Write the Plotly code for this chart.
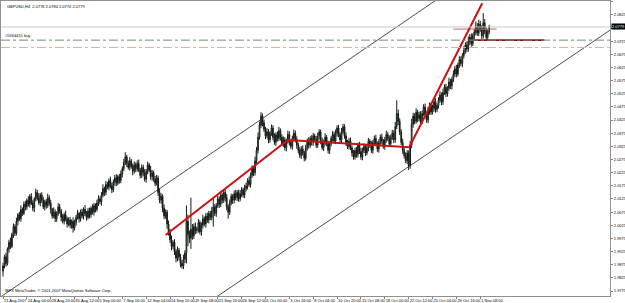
import plotly.graph_objects as go

# ---------------- data ----------------
SYMBOL_TITLE = "GBPUSD,H4  2.0776 2.0784 2.0770 2.0779"
COPYRIGHT = "IBFX MetaTrader, © 2001-2007 MetaQuotes Software Corp."
ORDER_LABEL = "#5564415 buy"

FIRST_OPEN_PIPS = 19850
CLOSE_PIPS = [
    19870, 19905, 19880, 19935, 19960, 19945, 19990, 20020, 19995, 20040, 20065, 20050, 20085, 20070, 20105, 20095,
    20120, 20105, 20135, 20110, 20090, 20125, 20150, 20130, 20110, 20140, 20120, 20095, 20115, 20100, 20130, 20110,
    20085, 20060, 20075, 20050, 20070, 20095, 20080, 20055, 20040, 20065, 20050, 20030, 20045, 20025, 20040, 20015, 20035,
    20055, 20070, 20050, 20075, 20060, 20085, 20070, 20055, 20080, 20065, 20090, 20075, 20100, 20085, 20110, 20125, 20115,
    20140, 20165, 20150, 20180, 20170, 20195, 20175, 20160, 20190, 20205, 20185, 20210, 20195, 20220,
    20240, 20265, 20285, 20260, 20245, 20270, 20250, 20230, 20255, 20240,
    20260, 20235, 20215, 20245, 20225, 20200, 20230, 20255, 20235, 20210, 20225, 20200, 20185, 20205,
    20150, 20120, 20135, 20090, 20060, 20075, 20030, 20000,
    19970, 19945, 19960, 19925, 19900, 19930, 19905, 19880, 19870, 19895, 19920,
    20040, 19990, 19975, 20010, 19985, 20020, 20005,
    20010, 20035, 20000, 20025, 20050, 20030, 20060, 20045, 20070, 20055, 20080, 20095, 20070,
    20100, 20125, 20105, 20140, 20120, 20150, 20130, 20095, 20075, 20110, 20135, 20120, 20145,
    20130, 20150, 20125, 20145, 20160, 20140, 20165,
    20175, 20195, 20180, 20215, 20240, 20225, 20270, 20310,
    20360, 20405, 20440, 20415,
    20390, 20365, 20380, 20350, 20375, 20395, 20360, 20340, 20370, 20355, 20385, 20360,
    20335, 20350, 20320, 20345, 20370, 20340, 20325, 20355, 20375, 20350, 20330, 20310,
    20290, 20315, 20300, 20280, 20320, 20345, 20330, 20355, 20340, 20365,
    20350, 20330, 20365, 20380, 20345, 20320, 20340, 20360, 20335, 20310, 20335, 20355, 20370, 20345,
    20375, 20395, 20370, 20350, 20380, 20400, 20365, 20340, 20325, 20345,
    20320, 20300, 20285, 20310, 20295, 20330, 20305, 20285, 20310, 20325,
    20300, 20320, 20345, 20330, 20310, 20340, 20355, 20335, 20315, 20340,
    20360, 20345, 20325, 20350, 20370, 20355, 20335, 20360, 20375, 20350,
    20400, 20450, 20420, 20380, 20340,
    20310, 20290, 20270, 20300, 20250,
    20330, 20410, 20440, 20420, 20455, 20430, 20445,
    20420, 20450, 20475, 20445, 20425, 20460, 20480, 20455, 20470, 20495, 20465, 20480, 20500,
    20520, 20495, 20530, 20550, 20525, 20545, 20570, 20555, 20580, 20600,
    20620, 20600, 20635, 20655, 20640, 20670, 20690,
    20710, 20695, 20725, 20740, 20715, 20745, 20760,
    20780, 20755, 20790, 20770, 20745, 20795, 20765, 20740, 20760, 20779,
]
UPPER_WICK_PIPS = [
    12, 8, 15, 6, 10, 18, 7, 12, 9, 14, 6, 11, 16, 8, 10, 13, 7, 15, 9, 12,
    10, 6, 14, 9, 17, 8, 11, 13, 7, 10, 15, 9, 12, 6, 18, 10, 8, 14, 11, 7,
    13, 9, 16, 8, 10, 12, 7, 15, 11, 9, 14, 6, 10, 13, 8, 17, 9, 11, 12, 7,
    15, 10, 8, 12, 14, 9, 11, 16, 7, 13, 10, 8, 15, 12, 9, 11, 14, 7, 10, 13,
    9, 12, 18, 8, 11, 14, 7, 10, 13, 9, 12, 15, 8, 11, 10, 14, 9, 12, 7, 16,
    10, 8, 13, 11, 9, 15, 12, 8, 14, 10, 9, 13, 11, 16, 8, 12, 10, 14, 9, 11,
    13, 18, 10, 60, 25, 15, 120, 20, 12, 16, 10, 14, 9, 12, 15, 8, 11, 13, 10, 9,
    14, 30, 11, 9, 13, 10, 15, 8, 12, 11, 14, 9, 13, 10, 8, 12, 15, 9, 11, 13,
    10, 8, 14, 12, 9, 15, 11, 13, 10, 16, 12, 18, 14, 15, 10, 12, 9, 14, 11, 8,
    13, 10, 15, 9, 12, 14, 8, 11, 13, 10, 9, 15, 12, 8, 11, 14, 10, 13, 9, 12,
    11, 14, 8, 12, 10, 15, 9, 13, 11, 8, 14, 12, 10, 9, 13, 11, 15, 8, 12, 10,
    9, 13, 11, 14, 10, 12, 8, 15, 11, 9, 13, 10, 12, 14, 8, 11, 10, 13, 9, 12,
    14, 10, 11, 9, 13, 12, 8, 15, 10, 11, 14, 9, 12, 10, 13, 8, 11, 15, 9, 12,
    10, 13, 11, 18, 50, 15, 12, 10, 14, 9, 12, 11, 10, 16, 20, 13, 11, 15, 9, 12,
    14, 11, 10, 13, 9, 15, 12, 10, 14, 11, 13, 9, 12, 15, 10, 14, 11, 13, 9, 16,
    12, 10, 14, 11, 15, 9, 13, 12, 10, 16, 11, 14, 18, 12, 15, 10, 13, 20, 14, 16,
    12, 15, 37, 14, 12, 10, 8,
]
LOWER_WICK_PIPS = [
    20, 9, 12, 8, 14, 10, 7, 13, 11, 9, 15, 8, 12, 10, 6, 14, 11, 9, 13, 8,
    12, 15, 9, 11, 7, 13, 10, 8, 14, 12, 9, 11, 16, 10, 8, 13, 12, 9, 11, 15,
    8, 12, 10, 14, 9, 11, 13, 18, 10, 12, 8, 15, 11, 9, 13, 10, 12, 8, 14, 11,
    9, 13, 11, 8, 12, 10, 15, 9, 14, 11, 8, 12, 10, 13, 9, 15, 11, 8, 12, 10,
    13, 9, 11, 14, 8, 12, 10, 15, 9, 13, 11, 8, 12, 10, 14, 9, 13, 11, 8, 12,
    15, 10, 12, 9, 14, 11, 13, 16, 12, 10, 18, 14, 12, 15, 11, 13, 16, 12, 14, 15,
    10, 12, 14, 40, 45, 18, 40, 15, 12, 14, 11, 13, 10, 15, 12, 9, 14, 11, 13, 10,
    12, 60, 10, 13, 9, 14, 11, 12, 10, 15, 13, 25, 11, 9, 14, 12, 10, 13, 11, 9,
    13, 10, 12, 11, 14, 9, 12, 10, 13, 11, 10, 12, 9, 11, 14, 10, 12, 9, 13, 11,
    10, 12, 9, 14, 11, 10, 13, 9, 12, 11, 14, 10, 12, 9, 13, 11, 10, 14, 12, 9,
    13, 10, 12, 9, 11, 14, 10, 12, 13, 9, 11, 10, 14, 12, 9, 13, 11, 10, 12, 14,
    10, 12, 9, 11, 13, 10, 12, 14, 9, 11, 13, 10, 12, 9, 14, 11, 10, 13, 12, 9,
    11, 13, 10, 12, 9, 14, 11, 10, 13, 12, 9, 11, 14, 10, 12, 9, 13, 11, 10, 12,
    12, 10, 13, 11, 9, 14, 12, 10, 13, 11, 9, 12, 15, 10, 12, 14, 11, 9, 13, 10,
    12, 11, 9, 13, 10, 12, 14, 11, 9, 13, 12, 10, 11, 9, 14, 12, 10, 13, 11, 9,
    12, 14, 10, 11, 13, 9, 12, 10, 14, 11, 13, 12, 10, 14, 11, 9, 13, 12, 10, 11,
    9, 12, 10, 13, 11, 10, 9,
]

TIME_LABELS = [
    "21 Aug 2007", "24 Aug 00:00", "28 Aug 20:00", "31 Aug 12:00", "5 Sep 00:00",
    "7 Sep 16:00", "12 Sep 04:00", "14 Sep 20:00", "19 Sep 08:00", "21 Sep 20:00",
    "26 Sep 12:00", "1 Oct 00:00", "3 Oct 16:00", "8 Oct 04:00", "10 Oct 20:00",
    "15 Oct 08:00", "18 Oct 00:00", "22 Oct 12:00", "25 Oct 04:00", "29 Oct 16:00",
    "1 Nov 08:00",
]
BARS_PER_LABEL = 16

PRICE_LABELS = [
    "1.9775", "1.9825", "1.9875", "1.9925", "1.9975", "2.0025", "2.0075", "2.0125",
    "2.0175", "2.0225", "2.0275", "2.0325", "2.0375", "2.0425", "2.0475", "2.0525",
    "2.0575", "2.0625", "2.0675", "2.0725", "2.0775", "2.0825", "2.0875",
]

# drawn objects (bar index, price)
RED_TREND_BARS = [109, 191, 272.4, 321.3]
RED_TREND_PRICES = [1.9988, 2.0349, 2.0322, 2.0869]
CHANNEL_A_BARS = [-2, 292]
CHANNEL_A_PRICES = [1.97508, 2.08874]
CHANNEL_B_BARS = [143, 412]
CHANNEL_B_PRICES = [1.97520, 2.07860]
BID_PRICE = 2.0779
ORDER_PRICE = 2.0729
STOP_PRICE = 2.0701
RED_LEVEL_BARS = [313, 363]
BROWN_LEVEL_BARS = [302, 331]
BROWN_LEVEL_PRICE = 2.0771

# ---------------- build ----------------
n = len(CLOSE_PIPS)
bars = list(range(n))
open_pips = [FIRST_OPEN_PIPS] + CLOSE_PIPS[:-1]
high_pips = [max(o, c) + u for o, c, u in zip(open_pips, CLOSE_PIPS, UPPER_WICK_PIPS)]
low_pips = [min(o, c) - l for o, c, l in zip(open_pips, CLOSE_PIPS, LOWER_WICK_PIPS)]
to_price = lambda v: [p / 10000 for p in v]

FONT = "Liberation Sans Narrow, Liberation Sans, sans-serif"
SMALL = 4
fig = go.Figure()

fig.add_trace(go.Candlestick(
    x=bars, open=to_price(open_pips), high=to_price(high_pips),
    low=to_price(low_pips), close=to_price(CLOSE_PIPS),
    increasing=dict(line=dict(color="#141c14", width=1), fillcolor="#ffffff"),
    decreasing=dict(line=dict(color="#141c14", width=1), fillcolor="#141c14"),
    whiskerwidth=0, showlegend=False, hoverinfo="skip",
))

# horizontal levels
fig.add_hline(y=BID_PRICE, line=dict(color="#c8c8c8", width=1))
fig.add_hline(y=ORDER_PRICE, line=dict(color="#6e8e6e", width=1, dash="dashdot"))
fig.add_hline(y=STOP_PRICE, line=dict(color="#e2b49a", width=1, dash="dashdot"))

def seg(xs, ys, color, width):
    fig.add_trace(go.Scatter(x=xs, y=ys, mode="lines", line=dict(color=color, width=width),
                             showlegend=False, hoverinfo="skip"))

seg(CHANNEL_A_BARS, CHANNEL_A_PRICES, "#202020", 0.8)
seg(CHANNEL_B_BARS, CHANNEL_B_PRICES, "#202020", 0.8)
seg(RED_LEVEL_BARS, [ORDER_PRICE, ORDER_PRICE], "#8b1010", 1.6)
seg(BROWN_LEVEL_BARS, [BROWN_LEVEL_PRICE, BROWN_LEVEL_PRICE], "#b07070", 1)
seg(RED_TREND_BARS, RED_TREND_PRICES, "#d01010", 2)

tick_bars = [BARS_PER_LABEL * k for k in range(len(TIME_LABELS))]
price_vals = [float(s) for s in PRICE_LABELS]
bid_label = f"{BID_PRICE:.4f}"
# the current-price box covers the grid label right under it
price_text = ["" if abs(v - BID_PRICE) < 0.0008 else s for v, s in zip(price_vals, PRICE_LABELS)]

fig.update_layout(
    width=625, height=303,
    margin=dict(l=1, r=15, t=1, b=7),
    paper_bgcolor="white", plot_bgcolor="white",
    font=dict(family=FONT, size=SMALL, color="#000000"),
    xaxis=dict(
        range=[-1.34, 407.0], showgrid=False, zeroline=False, rangeslider=dict(visible=False),
        tickmode="array", tickvals=tick_bars, ticktext=TIME_LABELS, tickangle=0,
        ticks="outside", ticklen=2, tickcolor="#808080", ticklabelposition="outside right",
        showline=True, linecolor="#909090", linewidth=1, mirror=True,
        tickfont=dict(size=SMALL), automargin=False,
    ),
    yaxis=dict(
        range=[1.97560, 2.08778], side="right", showgrid=False, zeroline=False,
        tickmode="array", tickvals=price_vals, ticktext=price_text,
        ticks="outside", ticklen=2, tickcolor="#808080",
        showline=True, linecolor="#909090", linewidth=1, mirror=True,
        tickfont=dict(size=SMALL), automargin=False,
    ),
    annotations=[
        dict(text=SYMBOL_TITLE, xref="paper", yref="paper", x=0.006, y=0.995,
             xanchor="left", yanchor="top", showarrow=False, font=dict(size=SMALL)),
        dict(text=COPYRIGHT, xref="paper", yref="paper", x=0.004, y=0.005,
             xanchor="left", yanchor="bottom", showarrow=False, font=dict(size=SMALL)),
        dict(text=ORDER_LABEL, xref="paper", yref="y", x=0.004, y=ORDER_PRICE,
             xanchor="left", yanchor="bottom", showarrow=False, font=dict(size=SMALL)),
        dict(text=bid_label, xref="paper", yref="y", x=1.0, y=BID_PRICE,
             xanchor="left", yanchor="middle", showarrow=False, xshift=1,
             bgcolor="#000000", font=dict(size=SMALL, color="#ffffff"), borderpad=0),
    ],
)

fig.write_html("out.html")
